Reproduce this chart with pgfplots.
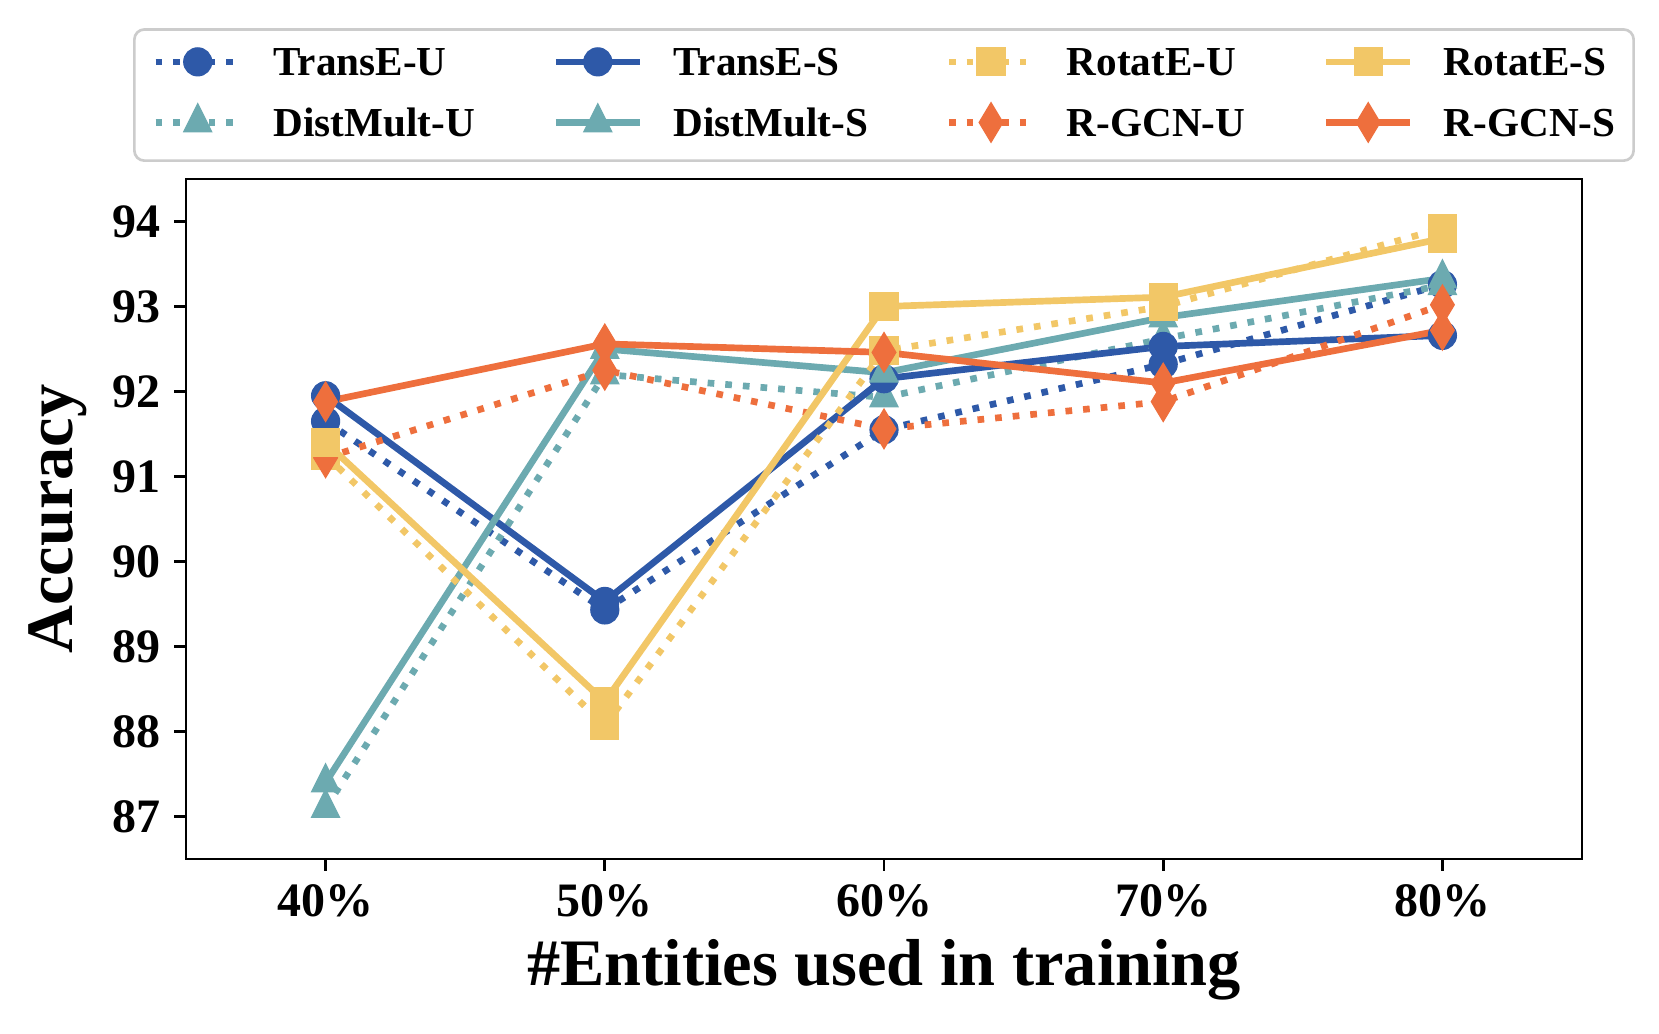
\documentclass[border=0pt]{standalone}
\usepackage{fontspec}
\setmainfont{Liberation Serif}
\usepackage{pgfplots}
\pgfplotsset{compat=1.18}
\definecolor{cblue}{RGB}{46,89,168}
\definecolor{cteal}{RGB}{108,170,176}
\definecolor{cyellow}{RGB}{242,199,103}
\definecolor{corange}{RGB}{238,111,61}
\pgfplotsset{
  dotted line/.style={dash pattern=on 1.67pt off 2.75pt},
  mcirc/.style={mark=*, mark size=3.5pt, mark options={solid, line width=0.3pt}},
  msq/.style={mark=square*, mark size=3.5pt, mark options={solid, line width=0.3pt}},
  mtri/.style={mark=triangle*, mark size=4.04pt, mark options={solid, line width=0.3pt, yscale=1.155}},
  mdia/.style={mark=diamond*, mark size=4.95pt, mark options={solid, line width=0.3pt, xscale=0.8}},
  tu/.style={cblue, line width=1.67pt, dotted line, mcirc},
  ts/.style={cblue, line width=1.67pt, solid, mcirc},
  ru/.style={cyellow, line width=1.67pt, dotted line, msq},
  rs/.style={cyellow, line width=1.67pt, solid, msq},
  du/.style={cteal, line width=1.67pt, dotted line, mtri},
  ds/.style={cteal, line width=1.67pt, solid, mtri},
  gu/.style={corange, line width=1.67pt, dotted line, mdia},
  gs/.style={corange, line width=1.67pt, solid, mdia},
}
\begin{document}
\begin{tikzpicture}
\useasboundingbox (0,0) rectangle (414.75pt,258.5pt);
\begin{axis}[
  at={(46.5pt,43.75pt)}, anchor=south west,
  scale only axis, width=349pt, height=170pt,
  xmin=-0.5, xmax=4.5, ymin=86.5, ymax=94.5,
  xtick={0,1,2,3,4}, xticklabels={40\%,50\%,60\%,70\%,80\%},
  ytick={87,88,89,90,91,92,93,94},
  tick align=outside, xtick pos=bottom, ytick pos=left,
  major tick length=2.9pt,
  every tick/.style={black, line width=0.67pt},
  axis line style={line width=0.67pt},
  ticklabel style={font=\fontsize{12}{14}\selectfont\bfseries},
  /pgf/number format/assume math mode=true,
  xlabel={\#Entities used in training}, ylabel={Accuracy},
  label style={font=\fontsize{16.6}{20}\selectfont\bfseries},
  xlabel style={at={(axis description cs:0.5,-0.163)}, anchor=center},
  ylabel style={at={(axis description cs:-0.092,0.5)}, anchor=center},
  legend columns=4,
  legend cell align=left,
  legend image code/.code={\draw[mark repeat=2,mark phase=2,#1] plot coordinates {(0pt,0pt) (10.5pt,0pt) (21pt,0pt)};},
  legend style={at={(0.5,1)}, anchor=south, yshift=4.25pt,
    draw=black!20, line width=0.67pt, rounded corners=2.5pt, inner xsep=4.5pt, inner ysep=4.6pt,
    font=\fontsize{10.3}{12}\selectfont\bfseries,
    nodes={inner sep=0pt, text height=7pt, text depth=0pt},
    row sep=6.7pt,
    /tikz/every odd column/.append style={column sep=7.6pt},
    /tikz/every even column/.append style={column sep=19.4pt}},
]
% drawing order (z-order)
\addplot[tu, forget plot] coordinates {(0,91.65) (1,89.43) (2,91.55) (3,92.32) (4,93.26)};
\addplot[du, forget plot] coordinates {(0,87.10) (1,92.20) (2,91.93) (3,92.62) (4,93.25)};
\addplot[ts, forget plot] coordinates {(0,91.95) (1,89.53) (2,92.15) (3,92.53) (4,92.66)};
\addplot[ds, forget plot] coordinates {(0,87.40) (1,92.50) (2,92.22) (3,92.87) (4,93.33)};
\addplot[ru, forget plot] coordinates {(0,91.25) (1,88.07) (2,92.48) (3,93.00) (4,93.92)};
\addplot[gu, forget plot] coordinates {(0,91.22) (1,92.25) (2,91.56) (3,91.88) (4,93.02)};
\addplot[rs, forget plot] coordinates {(0,91.40) (1,88.35) (2,93.00) (3,93.11) (4,93.80)};
\addplot[gs, forget plot] coordinates {(0,91.88) (1,92.56) (2,92.46) (3,92.10) (4,92.72)};
% legend
\addlegendimage{tu}\addlegendentry{TransE-U}
\addlegendimage{ts}\addlegendentry{TransE-S}
\addlegendimage{ru}\addlegendentry{RotatE-U}
\addlegendimage{rs}\addlegendentry{RotatE-S}
\addlegendimage{du}\addlegendentry{DistMult-U}
\addlegendimage{ds}\addlegendentry{DistMult-S}
\addlegendimage{gu}\addlegendentry{R-GCN-U}
\addlegendimage{gs}\addlegendentry{R-GCN-S}
\end{axis}
\end{tikzpicture}
\end{document}
